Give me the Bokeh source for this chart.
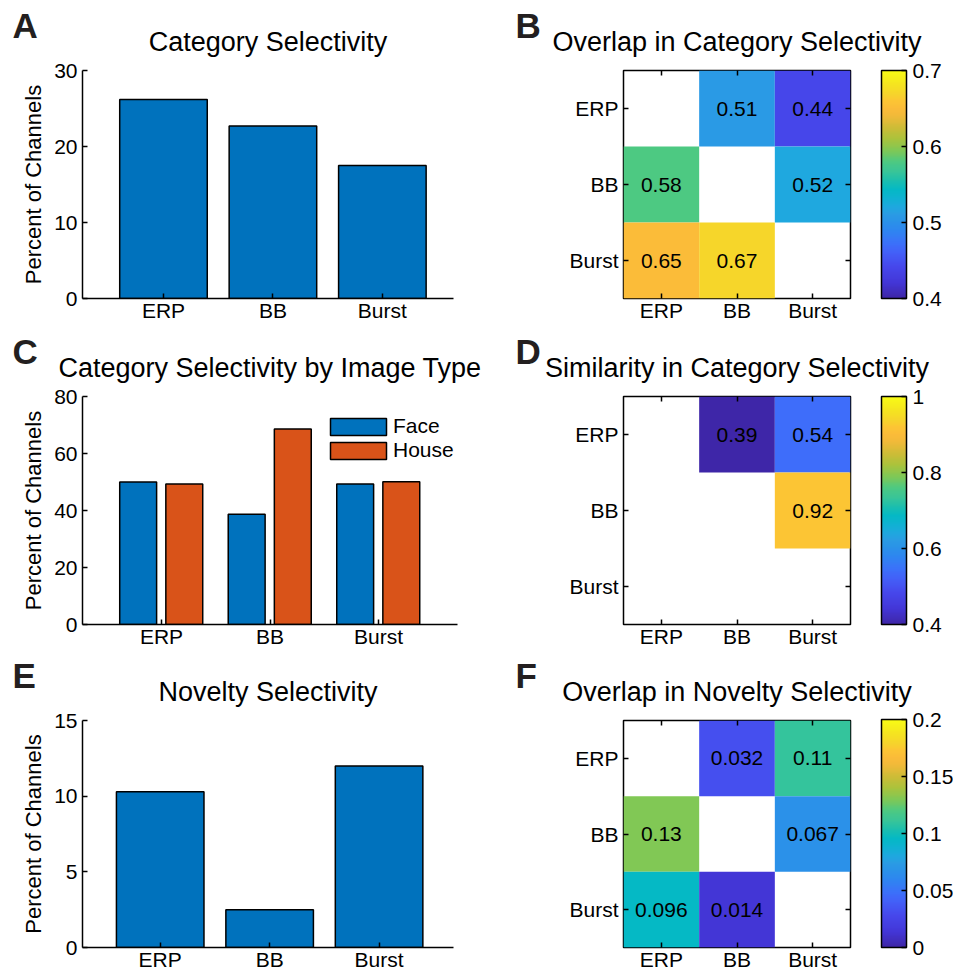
import numpy as np
from bokeh.plotting import figure
from bokeh.layouts import column, row
from bokeh.models import (ColumnDataSource, FixedTicker, Range1d, FactorRange,
                          LinearColorMapper, ColorBar, Title, Legend, LegendItem,
                          CategoricalAxis, CustomLabelingPolicy)
from bokeh.transform import dodge, transform
from bokeh.embed import file_html
from bokeh.resources import INLINE
from bokeh.core.properties import value

# ---------------- data ----------------
categories = ["ERP", "BB", "Burst"]
category_selectivity = [26.2, 22.7, 17.5]
face_pct = [50.0, 38.7, 49.3]
house_pct = [49.3, 68.6, 50.1]
novelty_selectivity = [10.3, 2.5, 12.0]

overlap_category = [[None, 0.51, 0.44],
                    [0.58, None, 0.52],
                    [0.65, 0.67, None]]
similarity_category = [[None, 0.39, 0.54],
                       [None, None, 0.92],
                       [None, None, None]]
overlap_novelty = [[None, 0.032, 0.11],
                   [0.13, None, 0.067],
                   [0.096, 0.014, None]]

yticks_A = [0, 10, 20, 30]
yticks_C = [0, 20, 40, 60, 80]
yticks_E = [0, 5, 10, 15]

cticks_B = [0.4, 0.5, 0.6, 0.7]
clabels_B = ["0.4", "0.5", "0.6", "0.7"]
cticks_D = [0.4, 0.6, 0.8, 1.0]
clabels_D = ["0.4", "0.6", "0.8", "1"]
cticks_F = [0.0, 0.05, 0.1, 0.15, 0.2]
clabels_F = ["0", "0.05", "0.1", "0.15", "0.2"]

# ---------------- style ----------------
FONT = "Liberation Sans"
BLUE = "#0072BD"
ORANGE = "#D95319"

parula_anchors = [
    (0.00, (62, 38, 168)), (0.07, (67, 55, 216)), (0.14, (70, 72, 236)),
    (0.20, (67, 96, 248)), (0.24, (60, 112, 250)), (0.30, (46, 135, 240)),
    (0.34, (42, 147, 232)), (0.37, (42, 156, 228)), (0.40, (31, 168, 223)),
    (0.44, (15, 178, 210)), (0.48, (5, 185, 196)), (0.52, (30, 191, 172)),
    (0.55, (53, 196, 155)), (0.60, (77, 201, 130)), (0.65, (128, 200, 85)),
    (0.70, (170, 195, 60)), (0.75, (205, 188, 55)), (0.80, (240, 186, 57)),
    (0.833, (251, 187, 57)), (0.87, (252, 198, 52)), (0.90, (246, 213, 43)),
    (0.95, (245, 232, 30)), (1.00, (249, 251, 21)),
]


def build_palette(anchors, n=256):
    ts = np.array([a[0] for a in anchors])
    rgb = np.array([a[1] for a in anchors], dtype=float)
    t = np.linspace(0, 1, n)
    chans = [np.interp(t, ts, rgb[:, k]) for k in range(3)]
    return ["#%02x%02x%02x" % (int(round(r)), int(round(g)), int(round(b)))
            for r, g, b in zip(*chans)]


PARULA = build_palette(parula_anchors)

ROW_H = [326, 324, 323]
LEFT_W = [470, 485, 470]
TOP = 70
FRAME_H = 228
HEAT_LEFT = 623          # page x of heatmap frame left edge
TICK_FS = "21px"
TITLE_FS = "27px"


def style_axis(ax, size=TICK_FS):
    ax.major_label_text_font = FONT
    ax.major_label_text_font_size = size
    ax.major_label_text_color = "black"
    ax.major_label_text_line_height = 1.0
    ax.axis_line_color = "black"
    ax.axis_line_width = 1.5
    ax.major_tick_line_color = "black"
    ax.major_tick_line_width = 1.5
    ax.major_tick_in = 5
    ax.major_tick_out = 0
    ax.minor_tick_line_color = None


def add_titles(p, title, letter, title_standoff, letter_offset, letter_standoff):
    p.title.text = ""
    p.add_layout(Title(text=title, align="center", text_font=FONT,
                       text_font_size=TITLE_FS, text_font_style="normal",
                       text_color="black", standoff=title_standoff), "above")
    p.add_layout(Title(text=letter, align="left", offset=letter_offset,
                       text_font=FONT, text_font_size="35px", text_font_style="bold",
                       text_color="#231f20", standoff=letter_standoff), "above")


def bar_figure(r, title, letter, ymax, yticks, xr, frame_right):
    h = ROW_H[r]
    w = LEFT_W[r]
    p = figure(width=w, height=h, x_range=Range1d(*xr), y_range=Range1d(0, ymax),
               output_backend="svg", toolbar_location=None,
               min_border_left=82, min_border_right=w - frame_right,
               min_border_top=TOP, min_border_bottom=h - TOP - FRAME_H)
    add_titles(p, title, letter, 27, 12 - 82, -67)
    p.outline_line_color = None
    p.grid.visible = False
    p.xaxis.ticker = FixedTicker(ticks=[1, 2, 3])
    p.xaxis.major_label_overrides = {i + 1: c for i, c in enumerate(categories)}
    p.yaxis.ticker = FixedTicker(ticks=yticks)
    p.yaxis.axis_label = "Percent of Channels"
    p.yaxis.axis_label_text_font = FONT
    p.yaxis.axis_label_text_font_size = "22px"
    p.yaxis.axis_label_text_font_style = "normal"
    p.yaxis.axis_label_text_color = "black"
    p.yaxis.axis_label_standoff = 5
    for ax in p.xaxis + p.yaxis:
        style_axis(ax)
    p.xaxis.major_label_standoff = 0
    p.yaxis.major_label_standoff = 5
    return p


def heat_figure(r, title, letter, matrix, low, high, cticks, clabels):
    h = ROW_H[r]
    w = 953 - LEFT_W[r]
    bl = HEAT_LEFT - LEFT_W[r]
    p = figure(width=w, height=h,
               x_range=FactorRange(*categories),
               y_range=FactorRange(*reversed(categories)),
               output_backend="svg", toolbar_location=None,
               min_border_left=bl, min_border_right=w - bl - 227,
               min_border_top=TOP, min_border_bottom=h - TOP - FRAME_H)
    p.grid.visible = False
    p.outline_line_color = "black"
    p.outline_line_width = 1.5
    for ax in p.xaxis + p.yaxis:
        style_axis(ax)
        ax.axis_line_color = None
    p.xaxis.major_label_standoff = 0
    p.yaxis.major_label_standoff = 5

    xs, ys, vs, ts = [], [], [], []
    for i, rname in enumerate(categories):
        for j, cname in enumerate(categories):
            v = matrix[i][j]
            if v is None:
                continue
            xs.append(cname)
            ys.append(rname)
            vs.append(v)
            ts.append("%g" % v)
    src = ColumnDataSource(dict(x=xs, y=ys, v=vs, t=ts))
    mapper = LinearColorMapper(palette=PARULA, low=low, high=high)
    p.rect(x="x", y="y", width=1, height=1, source=src,
           fill_color=transform("v", mapper), line_color=None)
    p.text(x="x", y="y", text="t", source=src, text_align="center",
           text_baseline="middle", text_font=value(FONT),
           text_font_size=value("21px"), text_color="black")

    # mirrored tick marks (box on), without labels
    for side in ("above", "right"):
        ax = CategoricalAxis(major_label_policy=CustomLabelingPolicy(code="return []"),
                             major_label_text_font_size="1px",
                             major_label_standoff=0,
                             axis_line_color=None, major_tick_in=5, major_tick_out=0,
                             major_tick_line_color="black", major_tick_line_width=1.5)
        p.add_layout(ax, side)

    add_titles(p, title, letter, 19, 515 - HEAT_LEFT, -59)

    cb = ColorBar(color_mapper=mapper, ticker=FixedTicker(ticks=cticks),
                  major_label_overrides=dict(zip(cticks, clabels)),
                  width=25, height=FRAME_H, padding=0, margin=0,
                  location=(227 + 31, 0),
                  bar_line_color="black", bar_line_width=1.5,
                  major_tick_line_color="black", major_tick_line_width=1.5,
                  major_tick_in=5, major_tick_out=0,
                  minor_tick_line_color=None,
                  major_label_text_font=FONT, major_label_text_font_size=TICK_FS,
                  major_label_text_color="black", label_standoff=6,
                  background_fill_alpha=0, border_line_color=None)
    p.add_layout(cb)
    return p


# ---------------- panels ----------------
pA = bar_figure(0, "Category Selectivity", "A", 30, yticks_A, (0.26, 3.65), 453)
pA.vbar(x=[1, 2, 3], top=category_selectivity, width=0.8, fill_color=BLUE,
        line_color="black", line_width=1.5)

pB = heat_figure(0, "Overlap in Category Selectivity", "B", overlap_category,
                 0.4, 0.7, cticks_B, clabels_B)

pC = bar_figure(1, "Category Selectivity by Image Type", "C", 80, yticks_C,
                (0.272, 3.728), 457)
srcC = ColumnDataSource(dict(x=[1, 2, 3], face=face_pct, house=house_pct))
rf = pC.vbar(x=dodge("x", -0.215), top="face", width=0.34, source=srcC,
             fill_color=BLUE, line_color="black", line_width=1.5)
rh = pC.vbar(x=dodge("x", 0.21), top="house", width=0.34, source=srcC,
             fill_color=ORANGE, line_color="black", line_width=1.5)
leg = Legend(items=[LegendItem(label="Face", renderers=[rf]),
                    LegendItem(label="House", renderers=[rh])],
             location=(241, 162), padding=0, margin=0, spacing=0,
             glyph_width=70, glyph_height=21, label_height=21, label_standoff=0,
             label_text_font=FONT, label_text_font_size="21px",
             label_text_color="black",
             border_line_color=None, background_fill_alpha=0)
pC.add_layout(leg)

pD = heat_figure(1, "Similarity in Category Selectivity", "D", similarity_category,
                 0.4, 1.0, cticks_D, clabels_D)

pE = bar_figure(2, "Novelty Selectivity", "E", 15, yticks_E, (0.29, 3.68), 453)
pE.vbar(x=[1, 2, 3], top=novelty_selectivity, width=0.8, fill_color=BLUE,
        line_color="black", line_width=1.5)

pF = heat_figure(2, "Overlap in Novelty Selectivity", "F", overlap_novelty,
                 0.0, 0.2, cticks_F, clabels_F)

layout = column(row(pA, pB), row(pC, pD), row(pE, pF))
open("out.html", "w").write(file_html(layout, INLINE))
